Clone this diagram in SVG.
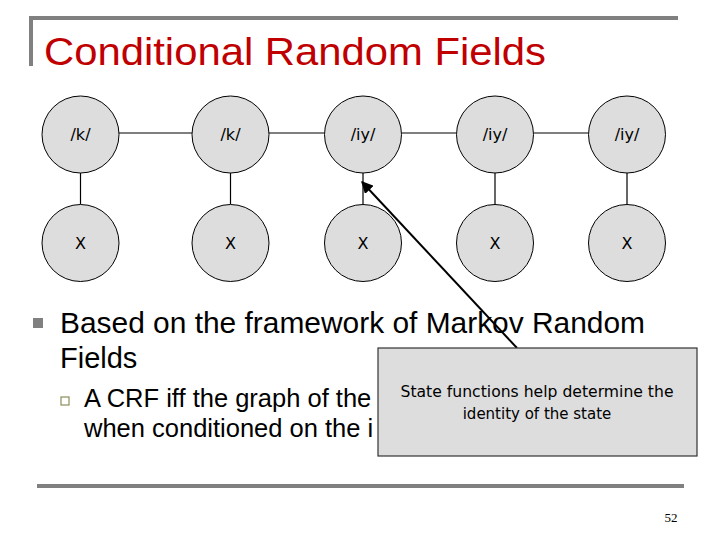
<svg xmlns="http://www.w3.org/2000/svg" width="720" height="540" viewBox="0 0 720 540">
<defs>
<style>
.node circle{fill:#dddddd;stroke:#000;stroke-width:1}
.node text{font-family:"DejaVu Sans","Liberation Sans",sans-serif;font-size:16px;fill:#000;text-anchor:middle}
.edge{stroke:#000;stroke-width:1.2;fill:none}
.body{font-family:"Liberation Sans",Arial,sans-serif;fill:#000}
.rule{stroke:#808080;stroke-width:4;fill:none}
</style>
<marker id="ah" viewBox="0 0 10 10" refX="9" refY="5" markerWidth="6" markerHeight="6" orient="auto-start-reverse">
<path d="M0,0 L10,5 L0,10 z" fill="#000"/>
</marker>
</defs>
<rect width="720" height="540" fill="#fff"/>
<polyline class="rule" points="31,66 31,18 678,18" stroke-width="3"/>
<text x="44" y="65" font-family="Liberation Sans, Arial, sans-serif" font-size="38" fill="#C00000" textLength="502" lengthAdjust="spacingAndGlyphs">Conditional Random Fields</text>

<g id="connectors">
<line class="edge" x1="119" y1="133" x2="192" y2="133"/>
<line class="edge" x1="269" y1="133" x2="324" y2="133"/>
<line class="edge" x1="402" y1="133" x2="456" y2="133"/>
<line class="edge" x1="534" y1="133" x2="588" y2="133"/>
<line class="edge" x1="80.5" y1="173" x2="80.5" y2="204"/>
<line class="edge" x1="230.5" y1="173" x2="230.5" y2="204"/>
<line class="edge" x1="363" y1="173" x2="363" y2="204"/>
<line class="edge" x1="495" y1="173" x2="495" y2="204"/>
<line class="edge" x1="627" y1="173" x2="627" y2="204"/>
</g>

<g id="s1" class="node"><circle cx="80.5" cy="134.5" r="38.5"/><text x="80.5" y="140">/k/</text></g>
<g id="s2" class="node"><circle cx="230.5" cy="134.5" r="38.5"/><text x="230.5" y="140">/k/</text></g>
<g id="s3" class="node"><circle cx="363" cy="134.5" r="38.5"/><text x="363" y="140">/iy/</text></g>
<g id="s4" class="node"><circle cx="495" cy="134.5" r="38.5"/><text x="495" y="140">/iy/</text></g>
<g id="s5" class="node"><circle cx="627" cy="134.5" r="38.5"/><text x="627" y="140">/iy/</text></g>
<g id="x1" class="node"><circle cx="80.5" cy="243" r="38.5"/><text x="80.5" y="249">X</text></g>
<g id="x2" class="node"><circle cx="230.5" cy="243" r="38.5"/><text x="230.5" y="249">X</text></g>
<g id="x3" class="node"><circle cx="363" cy="243" r="38.5"/><text x="363" y="249">X</text></g>
<g id="x4" class="node"><circle cx="495" cy="243" r="38.5"/><text x="495" y="249">X</text></g>
<g id="x5" class="node"><circle cx="627" cy="243" r="38.5"/><text x="627" y="249">X</text></g>

<rect x="33" y="318" width="10" height="10" fill="#808080"/>
<text class="body" x="60" y="333" font-size="29" textLength="585" lengthAdjust="spacingAndGlyphs">Based on the framework of Markov Random</text>
<text class="body" x="60" y="368" font-size="29">Fields</text>
<rect x="61" y="397" width="8" height="8" fill="#fff" stroke="#8c8c5a" stroke-width="1.2"/>
<text class="body" x="84" y="407" font-size="25.5">A CRF iff the graph of the</text>
<text class="body" x="84" y="437" font-size="25.5">when conditioned on the i</text>

<g id="connectors-callout">
<line x1="517" y1="348" x2="362" y2="182" stroke="#000" stroke-width="2" marker-end="url(#ah)"/>
</g>
<g id="callout">
<rect x="378" y="348" width="319" height="108" fill="#dddddd" stroke="#333" stroke-width="1.2"/>
<text x="537" y="397" font-family="DejaVu Sans, Liberation Sans, sans-serif" font-size="15" text-anchor="middle" textLength="273" lengthAdjust="spacingAndGlyphs">State functions help determine the</text>
<text x="537" y="419" font-family="DejaVu Sans, Liberation Sans, sans-serif" font-size="15" text-anchor="middle">identity of the state</text>
</g>

<line class="rule" x1="37" y1="486" x2="684" y2="486" stroke-width="3.5"/>
<text x="671" y="522" font-family="Liberation Serif, Times New Roman, serif" font-size="13" text-anchor="middle">52</text>
</svg>
